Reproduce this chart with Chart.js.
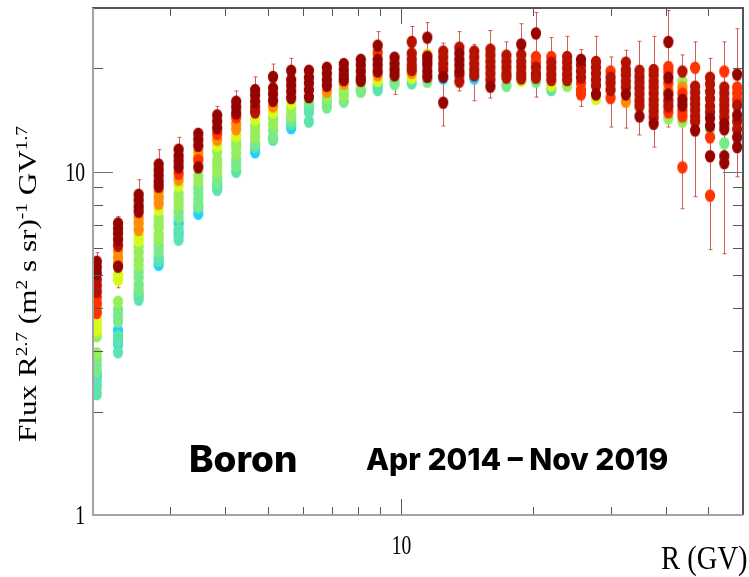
<!DOCTYPE html>
<html>
<head>
<meta charset="utf-8">
<script src="https://cdn.jsdelivr.net/npm/chart.js@4"></script>
<style>
  html, body { margin: 0; background: #fff; }
  #wrap { position: relative; width: 749px; height: 577px; overflow: hidden; }
  canvas { position: absolute; left: 0; top: 0; }
  .lbl { position: absolute; white-space: nowrap; color: #000; transform-origin: 0 0; }
  .serif { font-family: "Liberation Serif", serif; }
  .bold { font-family: "Inter", sans-serif; font-weight: 800; }
  sup { font-size: 62%; line-height: 0; position: relative; vertical-align: baseline; top: -0.55em; }
</style>
</head>
<body>
<div id="wrap">
  <canvas id="flux-chart" width="749" height="577"></canvas>
  <div class="lbl serif" style="left:13px;top:442px;font-size:26px;transform:rotate(-90deg) scaleX(1.2);">Flux R<sup>2.7</sup> (m<sup>2</sup> s sr)<sup>-1</sup> GV<sup>1.7</sup></div>
  <div class="lbl serif" style="left:661px;top:539px;font-size:26px;transform:scale(1.1,1.3);">R (GV)</div>
  <div class="lbl bold" style="left:189px;top:436px;font-size:37px;">Boron</div>
  <div class="lbl bold" style="left:366px;top:441px;font-size:30px;">Apr 2014 – Nov 2019</div>
</div>
<script>
// rigidity bin centres (GV)
const rigidity = [2.04,2.28,2.54,2.82,3.13,3.47,3.83,4.23,4.67,5.13,5.64,6.19,6.80,7.43,8.12,8.87,9.69,10.6,11.5,12.5,
  13.6,14.7,16.0,17.4,18.8,20.3,22.0,23.9,25.7,27.8,30.0,32.5,34.9,37.6,40.6,43.7,46.7,50.5,54.4,58.2];

// flux read per bin, one row per rigidity
const fluxByBin = [
  [5.47,5.26,5.05,4.84,4.65,4.47,4.30,4.13,4.02,3.88,3.70,3.57,3.45,3.32,2.96,2.84,2.73,2.62,2.54,2.45,2.36,2.25],
  [7.07,6.82,6.60,6.34,6.09,5.85,5.62,5.40,5.29,5.01,4.84,4.18,3.96,3.81,3.66,3.45,3.32,3.21,3.14,2.98],
  [8.57,8.24,7.91,7.65,7.35,7.07,6.77,6.51,6.30,6.05,5.81,5.54,5.33,5.12,4.91,4.68,4.50,4.38,4.24],
  [10.5,10.1,9.74,9.35,9.05,8.75,8.41,8.07,7.75,7.35,7.07,6.87,6.55,6.34,6.09,5.85,5.62,5.51,5.36],
  [11.6,11.1,10.7,10.3,9.87,9.48,9.11,8.63,8.29,7.97,7.65,7.35,7.07,6.77,6.60,6.34],
  [12.9,12.4,11.9,11.4,11.0,10.8,10.3,9.74,9.35,8.98,8.63,8.29,7.97,7.86,7.55],
  [14.6,14.0,13.4,12.9,12.4,11.9,11.4,10.8,10.4,10.0,9.61,9.29,9.11,8.86],
  [16.0,15.4,14.8,14.4,13.8,13.3,12.7,12.2,11.8,11.3,10.8,10.4,10.0],
  [17.3,16.7,16.0,15.4,14.9,14.2,13.6,13.1,12.6,12.1,11.8,11.4],
  [18.9,17.5,16.8,16.1,15.5,14.9,14.3,13.7,13.2,12.6,12.4],
  [19.7,18.5,17.8,17.1,16.4,15.8,15.2,14.6,14.2,13.8,13.4],
  [19.7,18.8,18.1,17.3,16.5,15.9,15.4,14.9,14.0],
  [20.1,19.3,18.5,17.8,17.1,16.4,15.9,15.4],
  [20.6,19.8,19.1,18.5,18.1,17.3,16.7,16.0],
  [21.2,20.4,19.6,18.8,18.4,18.1,17.3,17.1],
  [23.3,22.2,21.2,20.4,19.6,19.1,18.4,17.8,17.3],
  [21.5,20.6,19.8,19.1,18.5,18.0],
  [23.9,22.1,21.2,20.4,19.8,19.4,18.8,18.1],
  [24.6,21.9,21.8,21.6,21.0,20.4,19.6,18.9,18.3],
  [22.4,21.5,20.6,19.8,18.9,18.7,15.9],
  [23.0,22.1,21.2,20.4,19.6,19.1,18.3],
  [22.4,21.5,20.6,19.8,19.1,18.7],
  [22.7,21.8,20.9,20.1,19.3,18.5,17.7],
  [21.8,20.9,20.1,19.3,18.8,17.8],
  [23.5,21.9,20.9,20.1,19.3,18.7,18.4],
  [25.3,21.6,20.8,20.1,19.3,18.8,18.3],
  [21.6,20.8,20.0,19.2,18.5,17.8,17.3],
  [21.6,20.8,20.0,19.2,18.5,17.8],
  [21.2,20.4,19.6,18.8,18.1,17.3,16.8],
  [20.9,20.1,19.3,18.5,17.8,16.8,16.3],
  [19.6,18.8,18.1,17.3,16.4],
  [20.8,19.8,19.1,18.3,17.6,16.8,16.0],
  [19.7,18.9,18.2,17.5,16.8,16.1,15.5,14.5],
  [19.8,19.1,18.3,17.6,16.9,16.2,15.6,15.0,14.4,13.8],
  [23.9,20.2,19.6,18.8,18.1,17.3,16.8,16.1,15.5,14.9,14.3],
  [19.6,18.3,17.6,16.9,16.2,15.6,15.0,14.5,14.0,10.3],
  [20.1,17.7,17.0,16.3,15.7,15.1,14.5,14.0,13.2],
  [18.8,18.0,17.1,16.3,15.5,14.9,14.3,13.6,13.3,12.6,11.1,8.52],
  [19.6,17.6,16.9,16.2,15.6,15.0,14.4,13.8,13.3,12.1,11.1,10.6],
  [19.2,17.6,16.9,16.2,15.6,14.6,14.0,13.3,12.6,11.8]
];

// time band of each point above, one letter per value (C oldest colour ... D darkest)
const bandByBin = [
  'DDDRRREEOEYYYLLGGGCTTT','DDDDROOODYYLGGGCTTCT','DDDDOOOYYLLLLGGGGTT','DDDDDOOOYLLLLLGGTTC','DDDDEOYLLLGGCTCT',
  'DDDOOEDLLGGGGTC','DDDEOYLLLLGGCT','DDDEOOYLLLGGT','DDDRRYLLLGTC','DDDDOYLLGGT',
  'DDDDDYLLGTC','DDDDDGTTT','DDDDOLGG','DDDDOLLG','DDDDDLGG',
  'DEDDDOYTT','DDDDGG','RRRRROYT','DYODDDDDG','RRRRDCD',
  'RDDDDRR','RRRRRC','RRRRRRD','RRRRRG','DRRRRRY',
  'DEERRRG','ERRRRYT','RRRRRL','DRRREEE','RRRRRDY',
  'ERRRE','RRRRRDO','RRRRRRRD','RRRRRRRRRD','DEEDEODRREL',
  'RLOEDDEELE','ERRRRRRRD','RRRRRRDDGEDE','ERRRRRRDDGDD','DEEERDRRDD'
];

// chart.js paints the first dataset last, so the dark band goes first to end up on top
const bandOrder = ['D','R','E','O','Y','L','G','T','C'];
const bandColors = { C:'#1fcfff', T:'#5ce3ae', G:'#78ea88', L:'#96ee5c', Y:'#d4fb1c', O:'#ff8c08', E:'#ff3300', R:'#b51200', D:'#960400' };

// error bars: bin index, upper and lower flux
const errBin = [0,0,1,2,3,4,5,6,7,8,9,10,11,14,15,16,17,18,19,20,21,22,23,24,25,26,27,28,29,30,31,32,33,34,35,36,37,38,39];
const errHi = [5.81,4.24,7.40,9.48,11.6,12.6,11.4,15.5,17.2,18.9,20.6,21.4,18.5,19.8,25.6,21.9,26.5,27.2,23.7,25.6,23.5,25.8,23.9,27.0,29.1,24.6,24.8,22.7,24.8,21.6,22.6,24.0,24.8,29.5,21.9,23.9,21.4,23.9,26.1];
const errLo = [5.20,3.45,4.59,7.35,8.98,9.11,9.29,12.5,13.5,16.2,17.1,17.9,15.0,16.7,21.2,16.8,21.9,17.8,13.6,17.2,16.1,16.4,17.6,18.1,16.5,19.2,19.8,15.5,18.5,13.5,13.4,12.8,11.8,13.5,7.80,8.46,5.93,5.77,9.67];

const xMinor = [3,4,5,6,7,8,9,20,30,40,50];
const xMajor = [10];
const yMinor = [2,3,4,5,6,7,8,9,20];
const yMajor = [1,10];

// the picture is stretched vertically and soft, so the dots are slightly blurred tall ellipses
function ellipseSprite(color) {
  const c = document.createElement('canvas');
  c.width = 14; c.height = 16;
  const g = c.getContext('2d');
  g.filter = 'blur(0.5px)';
  g.fillStyle = color;
  g.beginPath();
  g.ellipse(7, 8, 5.1, 6.3, 0, 0, Math.PI * 2);
  g.fill();
  return c;
}

const datasets = bandOrder.map(band => {
  const pts = [];
  fluxByBin.forEach((row, i) => {
    row.forEach((f, j) => {
      if (bandByBin[i][j] === band) pts.push({ x: rigidity[i], y: f });
    });
  });
  return { label: band, data: pts, showLine: false, pointStyle: ellipseSprite(bandColors[band]), pointRadius: 5, pointHoverRadius: 5 };
});

const errorBars = {
  id: 'errorBars',
  beforeDatasetsDraw(chart) {
    const { ctx, scales: { x, y } } = chart;
    ctx.save();
    ctx.strokeStyle = 'rgba(196,40,30,0.75)';
    ctx.lineWidth = 1;
    errBin.forEach((bin, i) => {
      const px = Math.round(x.getPixelForValue(rigidity[bin])) + 0.5;
      const top = y.getPixelForValue(errHi[i]);
      const bot = y.getPixelForValue(errLo[i]);
      ctx.beginPath();
      ctx.moveTo(px, top); ctx.lineTo(px, bot);
      ctx.moveTo(px - 2, top); ctx.lineTo(px + 2, top);
      ctx.moveTo(px - 2, bot); ctx.lineTo(px + 2, bot);
      ctx.stroke();
    });
    ctx.restore();
  }
};

// ROOT style frame, inward ticks on all four sides, squeezed tick labels
const frame = {
  id: 'frame',
  afterDraw(chart) {
    const { ctx, chartArea: a, scales: { x, y } } = chart;
    ctx.save();
    ctx.strokeStyle = '#555';
    ctx.lineWidth = 1;
    const line = (x1, y1, x2, y2) => { ctx.beginPath(); ctx.moveTo(x1, y1); ctx.lineTo(x2, y2); ctx.stroke(); };
    const snap = v => Math.round(v) + 0.5;
    xMinor.forEach(v => {
      const p = snap(x.getPixelForValue(v));
      line(p, a.bottom, p, a.bottom - 8);
      line(p, a.top, p, a.top + 8);
    });
    xMajor.forEach(v => {
      const p = snap(x.getPixelForValue(v));
      line(p, a.bottom, p, a.bottom - 16);
      line(p, a.top, p, a.top + 16);
    });
    yMinor.forEach(v => {
      const p = snap(y.getPixelForValue(v));
      line(a.left, p, a.left + 10, p);
      line(a.right, p, a.right - 10, p);
    });
    yMajor.forEach(v => {
      const p = Math.round(y.getPixelForValue(v)) - (v === 1 ? 0.5 : -0.5);
      ctx.strokeStyle = v === 1 ? '#222' : '#777';
      line(a.left, p, a.left + 20, p);
      line(a.right, p, a.right - 20, p);
      ctx.strokeStyle = '#555';
    });
    // top and right edges are dark, left and bottom are gray
    ctx.lineWidth = 2;
    line(a.left - 1, a.top, a.right + 1, a.top);
    line(a.right, a.top, a.right, a.bottom);
    ctx.strokeStyle = '#a2a2a2';
    line(a.left, a.top, a.left, a.bottom + 1);
    line(a.left, a.bottom, a.right, a.bottom);

    ctx.fillStyle = '#000';
    ctx.font = '28px "Liberation Serif"';
    const label = (txt, px, py, align) => {
      ctx.save();
      ctx.translate(px, py);
      ctx.scale(0.7, 1);
      ctx.textAlign = align;
      ctx.textBaseline = 'middle';
      ctx.fillText(txt, 0, 0);
      ctx.restore();
    };
    xMajor.forEach(v => label(String(v), x.getPixelForValue(v) + 1, 547, 'center'));
    yMajor.forEach(v => label(String(v), 85, y.getPixelForValue(v) + 2, 'right'));
    ctx.restore();
  }
};

new Chart(document.getElementById('flux-chart'), {
  type: 'scatter',
  data: { datasets },
  plugins: [errorBars, frame],
  options: {
    responsive: false,
    animation: false,
    layout: { padding: { top: 8, right: 4 } },
    plugins: { legend: { display: false }, tooltip: { enabled: false } },
    scales: {
      x: {
        type: 'logarithmic', min: 2, max: 60,
        grid: { display: false }, border: { display: false },
        ticks: { display: false },
        afterFit(s) { s.height = 62; }
      },
      y: {
        type: 'logarithmic', min: 1, max: 30,
        grid: { display: false }, border: { display: false },
        ticks: { display: false },
        afterFit(s) { s.width = 93; }
      }
    }
  }
});
</script>
</body>
</html>
